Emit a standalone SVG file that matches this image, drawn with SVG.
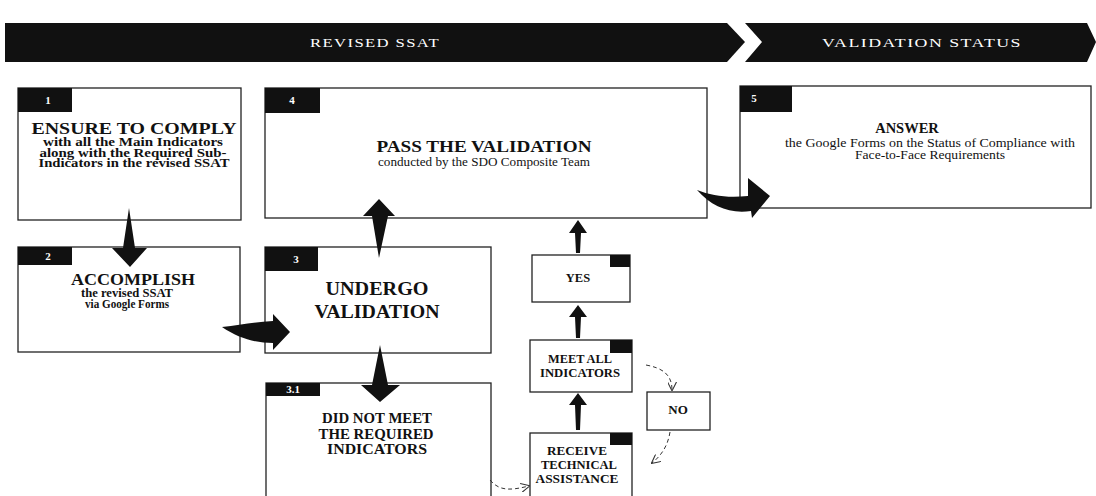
<svg xmlns="http://www.w3.org/2000/svg" width="1096" height="496" viewBox="0 0 1096 496">
<style>
.box{fill:#fff;stroke:#222;stroke-width:1.3}
.tab{fill:#111}
.num{font-family:"Liberation Serif",serif;font-size:11px;font-weight:bold;fill:#fff;text-anchor:middle}
.t{font-family:"Liberation Serif",serif;font-weight:bold;fill:#111;text-anchor:middle}
.r{font-family:"Liberation Serif",serif;fill:#111;text-anchor:middle}
.hd{font-family:"Liberation Serif",serif;font-size:12px;fill:#fff;text-anchor:middle;letter-spacing:1px}
.arr{fill:#111}
.dash{fill:none;stroke:#333;stroke-width:1;stroke-dasharray:4 3}
</style>
<defs>
<marker id="open" viewBox="0 0 10 10" refX="9" refY="5" markerWidth="9" markerHeight="9" orient="auto" markerUnits="userSpaceOnUse">
<path d="M0,0 L10,5 L0,10" fill="none" stroke="#333" stroke-width="1.2"/>
</marker>
</defs>

<g id="header">
<polygon points="5,23 727,23 745,42 727,62 5,62" fill="#111"/>
<text class="hd" x="375" y="47" textLength="130" lengthAdjust="spacingAndGlyphs">REVISED SSAT</text>
<polygon points="745,23 1087,23 1096,42 1087,62 745,62 762,42" fill="#111"/>
<text class="hd" x="922" y="47" textLength="200" lengthAdjust="spacingAndGlyphs">VALIDATION STATUS</text>
</g>

<g id="node1">
<rect class="box" x="18" y="88" width="223" height="132"/>
<rect class="tab" x="18" y="88" width="54" height="24"/>
<text class="num" x="48" y="104">1</text>
<text class="t" x="134" y="134" font-size="17.5" textLength="205" lengthAdjust="spacingAndGlyphs">ENSURE TO COMPLY</text>
<text class="t" x="133" y="146" font-size="11.5" textLength="180" lengthAdjust="spacingAndGlyphs">with all the Main Indicators</text>
<text class="t" x="133" y="156.5" font-size="11.5" textLength="187" lengthAdjust="spacingAndGlyphs">along with the Required Sub-</text>
<text class="t" x="134" y="167" font-size="11.5" textLength="191" lengthAdjust="spacingAndGlyphs">Indicators in the revised SSAT</text>
</g>

<g id="node4">
<rect class="box" x="265" y="88" width="442" height="130"/>
<rect class="tab" x="265" y="88" width="55" height="25"/>
<text class="num" x="292" y="104">4</text>
<text class="t" x="484" y="152" font-size="17" textLength="215" lengthAdjust="spacingAndGlyphs">PASS THE VALIDATION</text>
<text class="r" x="484" y="166" font-size="12" textLength="212" lengthAdjust="spacingAndGlyphs">conducted by the SDO Composite Team</text>
</g>

<g id="node5">
<rect class="box" x="740" y="86" width="351" height="122"/>
<rect class="tab" x="740" y="86" width="52" height="26"/>
<text class="num" x="754" y="102">5</text>
<text class="t" x="907" y="133" font-size="14.5">ANSWER</text>
<text class="r" x="930" y="146.5" font-size="11.5" textLength="290" lengthAdjust="spacingAndGlyphs">the  Google Forms on the Status of Compliance with</text>
<text class="r" x="930" y="158.5" font-size="11.5" textLength="150" lengthAdjust="spacingAndGlyphs">Face-to-Face Requirements</text>
</g>

<g id="node2">
<rect class="box" x="18" y="247" width="222" height="105"/>
<rect class="tab" x="18" y="247" width="54" height="18"/>
<text class="num" x="48" y="260">2</text>
<text class="t" x="133" y="285" font-size="17.5" textLength="124" lengthAdjust="spacingAndGlyphs">ACCOMPLISH</text>
<text class="t" x="127" y="297" font-size="11.5" textLength="92" lengthAdjust="spacingAndGlyphs">the revised SSAT</text>
<text class="t" x="127" y="308" font-size="11.5" textLength="84" lengthAdjust="spacingAndGlyphs">via Google Forms</text>
</g>

<g id="node3">
<rect class="box" x="265" y="247" width="226" height="106"/>
<rect class="tab" x="265" y="247" width="53" height="24"/>
<text class="num" x="296" y="263">3</text>
<text class="t" x="377" y="295" font-size="19" textLength="103" lengthAdjust="spacingAndGlyphs">UNDERGO</text>
<text class="t" x="377" y="318" font-size="19" textLength="125" lengthAdjust="spacingAndGlyphs">VALIDATION</text>
</g>

<g id="node3-1">
<rect class="box" x="266" y="383" width="225" height="125"/>
<rect class="tab" x="266" y="383" width="54" height="13"/>
<text class="num" x="293" y="393" font-size="10">3.1</text>
<text class="t" x="377" y="423" font-size="14" textLength="110" lengthAdjust="spacingAndGlyphs">DID NOT MEET</text>
<text class="t" x="376" y="438.5" font-size="14" textLength="115" lengthAdjust="spacingAndGlyphs">THE REQUIRED</text>
<text class="t" x="377" y="454" font-size="14" textLength="100" lengthAdjust="spacingAndGlyphs">INDICATORS</text>
</g>

<g id="node-yes">
<rect class="box" x="532" y="255" width="98" height="47"/>
<rect class="tab" x="610" y="255" width="20" height="12"/>
<text class="t" x="578" y="282" font-size="12.5">YES</text>
</g>

<g id="node-meet">
<rect class="box" x="530" y="340" width="102" height="52"/>
<rect class="tab" x="610" y="340" width="22" height="13"/>
<text class="t" x="580" y="363" font-size="12" textLength="64" lengthAdjust="spacingAndGlyphs">MEET ALL</text>
<text class="t" x="580" y="377" font-size="12" textLength="80" lengthAdjust="spacingAndGlyphs">INDICATORS</text>
</g>

<g id="node-no">
<rect class="box" x="647" y="392" width="63" height="38"/>
<text class="t" x="678" y="414" font-size="13">NO</text>
</g>

<g id="node-receive">
<rect class="box" x="530" y="433" width="102" height="75"/>
<rect class="tab" x="610" y="433" width="22" height="12"/>
<text class="t" x="577" y="455" font-size="12.5" textLength="60" lengthAdjust="spacingAndGlyphs">RECEIVE</text>
<text class="t" x="579" y="469" font-size="12" textLength="76" lengthAdjust="spacingAndGlyphs">TECHNICAL</text>
<text class="t" x="577" y="483" font-size="12.5" textLength="83" lengthAdjust="spacingAndGlyphs">ASSISTANCE</text>
</g>

<g id="connectors">
<polygon class="arr" points="129,208 135,248 147,248 130,267 112,248 123,248"/>
<polygon class="arr" points="379,199 395,216 388,216 379,258 372,216 363,216"/>
<polygon class="arr" points="380,345 388,385 400,385 380,402 361,385 372,385"/>
<path class="arr" d="M222,327 C240,325 255,322 273,321 L273,314 L290,332 L273,350 L273,343 C255,343 238,338 222,327 Z"/>
<path class="arr" d="M697,190 C712,196 728,198 748,196 L748,178 L770,196 L752,218 L751,211 C730,214 712,207 697,190 Z"/>
<polygon class="arr" points="578,220 587,233 581,233 580,253 576,253 575,233 569,233"/>
<polygon class="arr" points="578,305 587,317 581,317 580,338 576,338 575,317 569,317"/>
<polygon class="arr" points="578,393 587,405 581,405 580,430 576,430 575,405 569,405"/>
<path class="dash" d="M490,480 C500,492 512,490 529,486" marker-end="url(#open)"/>
<path class="dash" d="M646,365 C662,368 672,374 672,390" marker-end="url(#open)"/>
<path class="dash" d="M670,432 C668,445 662,455 652,463" marker-end="url(#open)"/>
</g>
</svg>
